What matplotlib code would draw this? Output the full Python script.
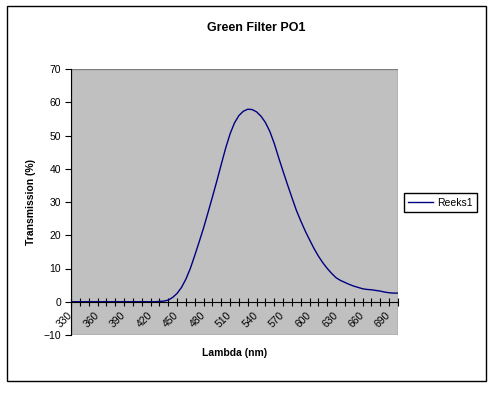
import matplotlib
matplotlib.use("Agg")
import matplotlib.pyplot as plt
from matplotlib.patches import Rectangle

plt.rcParams["font.family"] = ["Liberation Sans", "DejaVu Sans"]

# transmission spectrum (every 5 nm)
lambda_nm = [330, 335, 340, 345, 350, 355, 360, 365, 370, 375,
             380, 385, 390, 395, 400, 405, 410, 415, 420, 425,
             430, 435, 440, 445, 450, 455, 460, 465, 470, 475,
             480, 485, 490, 495, 500, 505, 510, 515, 520, 525,
             530, 535, 540, 545, 550, 555, 560, 565, 570, 575,
             580, 585, 590, 595, 600, 605, 610, 615, 620, 625,
             630, 635, 640, 645, 650, 655, 660, 665, 670, 675,
             680, 685, 690, 695, 700]
transmission = [0, 0, 0, 0, 0, 0, 0, 0, 0, 0,
                0, 0, 0, 0, 0, 0, 0, 0, 0, 0,
                0.1, 0.2, 0.5, 1.3, 2.5, 4.3, 6.8, 10.0, 13.9, 18.0,
                22.2, 26.8, 31.5, 36.3, 41.3, 46.2, 50.5, 53.8, 56.0, 57.3,
                57.9, 57.8, 57.1, 55.8, 53.9, 51.2, 47.6, 43.3, 39.2, 35.2,
                31.3, 27.5, 24.3, 21.3, 18.6, 16.0, 13.7, 11.7, 10.0, 8.5,
                7.2, 6.4, 5.8, 5.2, 4.7, 4.3, 3.9, 3.7, 3.6, 3.4,
                3.2, 2.9, 2.7, 2.6, 2.6]
x_ticks = list(range(330, 701, 10))
x_labels = [330, 360, 390, 420, 450, 480, 510, 540, 570, 600, 630, 660, 690]
y_ticks = [-10, 0, 10, 20, 30, 40, 50, 60, 70]


def main():
    fig = plt.figure(figsize=(4.97, 3.93), dpi=100)
    fig.patch.set_facecolor("white")
    fig.patches.append(Rectangle((7 / 497, 12 / 393), 479 / 497, 375 / 393,
                                 transform=fig.transFigure, fill=False,
                                 edgecolor="black", linewidth=1.0))

    ax = fig.add_axes([71 / 497, 58 / 393, 327 / 497, 266 / 393])
    ax.set_facecolor("#C0C0C0")
    ax.plot(lambda_nm, transmission, color="#000080", linewidth=1.0, label="Reeks1")

    ax.set_xlim(330, 700)
    ax.set_ylim(-10, 70)

    # plot area border
    ax.add_patch(Rectangle((0, 0), 1, 1, transform=ax.transAxes, fill=False,
                           edgecolor="#808080", linewidth=1.0, zorder=0.5))
    for s in ["top", "right"]:
        ax.spines[s].set_visible(False)
    ax.spines["left"].set_color("black")
    ax.spines["bottom"].set_position(("data", 0))
    ax.spines["bottom"].set_color("black")

    ax.set_xticks(x_ticks)
    ax.set_xticklabels([str(v) if v in x_labels else "" for v in x_ticks],
                       rotation=45, ha="right", va="center", rotation_mode="anchor")
    ax.tick_params(axis="x", direction="inout", length=6, width=0.8,
                   labelsize=7.5, pad=5.5)
    ax.set_yticks(y_ticks)
    ax.tick_params(axis="y", direction="out", length=4, width=0.8,
                   labelsize=7.5, pad=3)

    fig.text(256 / 497, 1 - 28 / 393, "Green Filter PO1", ha="center",
             va="center", fontsize=9, fontweight="bold")
    fig.text(234.5 / 497, 1 - 353 / 393, "Lambda (nm)", ha="center",
             va="center", fontsize=7.5, fontweight="bold")
    fig.text(31 / 497, (393 - 202) / 393, "Transmission (%)", ha="center",
             va="center", rotation=90, fontsize=7.5, fontweight="bold")

    leg = ax.legend(loc="center left", bbox_to_anchor=(404 / 497, 1 - 202.5 / 393),
                    bbox_transform=fig.transFigure, fontsize=7.5, frameon=True,
                    fancybox=False, edgecolor="black", framealpha=1,
                    handlelength=2.4, handletextpad=0.4, borderpad=0.4,
                    borderaxespad=0)
    leg.get_frame().set_linewidth(1.0)

    plt.savefig("out.png", dpi=100)


if __name__ == "__main__":
    main()
